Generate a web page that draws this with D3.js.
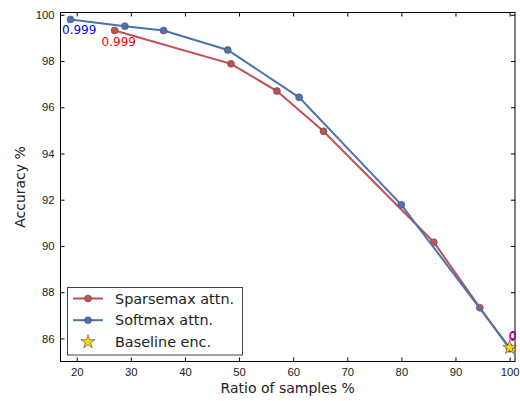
<!DOCTYPE html>
<html>
<head>
<meta charset="utf-8">
<script src="https://cdn.jsdelivr.net/npm/d3@7"></script>
<style>
  body { margin: 0; background: #fff; }
  svg { display: block; font-family: "DejaVu Sans", sans-serif; }
  .axis path, .axis line { stroke: #000; }
  .axis text { fill: #222; font-size: 11.3px; }
</style>
</head>
<body>
<div id="chart"></div>
<script>
// Data
const sparseX = [27, 48.5, 57, 65.6, 86, 94.5, 100];
const sparseY = [99.32, 97.88, 96.7, 94.96, 90.16, 87.33, 85.55];
const softX = [18.85, 28.9, 36.05, 47.9, 61.1, 80, 100];
const softY = [99.8, 99.51, 99.32, 98.48, 96.43, 91.78, 85.6];
const baseX = [100];
const baseY = [85.6];
const xTicks = [20, 30, 40, 50, 60, 70, 80, 90, 100];
const yTicks = [86, 88, 90, 92, 94, 96, 98, 100];
const seriesNames = ["Sparsemax attn.", "Softmax attn.", "Baseline enc."];
const startLabel = "0.999";
const endLabel = "0"; // only this much shows at the figure edge

// Plot box
const w = 520, h = 401;
const pLeft = 60.5, pRight = 515, pTop = 12.5, pBottom = 361.5;
const red = "#c44e52", blue = "#4c72b0";

const svg = d3.select("#chart").append("svg").attr("width", w).attr("height", h);

const x = d3.scaleLinear().domain([17, 101]).range([pLeft, pRight]);
const y = d3.scaleLinear().domain([85, 100.1]).range([pBottom, pTop]);

// Axes, ticks pointing inward on all four sides
svg.append("g").attr("class", "axis").attr("transform", "translate(0," + pBottom + ")")
  .call(d3.axisBottom(x).tickValues(xTicks).tickSizeInner(-4).tickSizeOuter(0).tickPadding(6))
  .call(g => g.select(".domain").remove());
svg.append("g").attr("class", "axis").attr("transform", "translate(0," + pTop + ")")
  .call(d3.axisTop(x).tickValues(xTicks).tickSizeInner(-4).tickSizeOuter(0).tickFormat(""))
  .call(g => g.select(".domain").remove());
svg.append("g").attr("class", "axis").attr("transform", "translate(" + pLeft + ",0)")
  .call(d3.axisLeft(y).tickValues(yTicks).tickSizeInner(-4).tickSizeOuter(0).tickPadding(6))
  .call(g => g.select(".domain").remove());
svg.append("g").attr("class", "axis").attr("transform", "translate(" + pRight + ",0)")
  .call(d3.axisRight(y).tickValues(yTicks).tickSizeInner(-4).tickSizeOuter(0).tickFormat(""))
  .call(g => g.select(".domain").remove());
svg.selectAll(".axis line").attr("stroke-width", 1);

svg.append("rect").attr("x", pLeft).attr("y", pTop).attr("width", pRight - pLeft).attr("height", pBottom - pTop)
  .attr("fill", "none").attr("stroke", "#000").attr("stroke-width", 1);

// Axis labels
svg.append("text").text("Ratio of samples %").attr("x", (pLeft + pRight) / 2).attr("y", 393)
  .attr("text-anchor", "middle").attr("font-size", 14).attr("fill", "#222");
svg.append("text").text("Accuracy %").attr("transform", "translate(25," + ((pTop + pBottom) / 2) + ") rotate(-90)")
  .attr("text-anchor", "middle").attr("font-size", 14).attr("fill", "#222");

// Lines and markers
function drawSeries(xs, ys, color) {
  const pts = xs.map((d, i) => [d, ys[i]]);
  const line = d3.line().x(d => x(d[0])).y(d => y(d[1]));
  svg.append("path").datum(pts).attr("d", line).attr("fill", "none").attr("stroke", color).attr("stroke-width", 2);
  svg.append("g").selectAll("circle").data(pts).join("circle")
    .attr("cx", d => x(d[0])).attr("cy", d => y(d[1])).attr("r", 3.5)
    .attr("fill", color).attr("stroke", "#555").attr("stroke-width", 0.6);
}
drawSeries(sparseX, sparseY, red);
drawSeries(softX, softY, blue);

const star = d3.symbol().type(d3.symbolStar).size(60);
svg.append("g").selectAll("path").data(baseX).join("path")
  .attr("d", star).attr("transform", (d, i) => "translate(" + x(d) + "," + y(baseY[i]) + ")")
  .attr("fill", "#ffd700").attr("stroke", "#444").attr("stroke-width", 0.6);

// Value annotations
const ann = svg.append("g").attr("font-size", 12);
ann.append("text").text(startLabel).attr("x", x(softX[0]) - 8.5).attr("y", y(softY[0]) + 14.5).attr("fill", "#0000ff");
ann.append("text").text(startLabel).attr("x", x(sparseX[0]) - 13).attr("y", y(sparseY[0]) + 15).attr("fill", "#ff0000");
ann.append("text").text(endLabel).attr("x", x(softX[softX.length - 1]) - 0.5).attr("y", y(softY[softY.length - 1]) - 8).attr("fill", "#0000ff");
ann.append("text").text(endLabel).attr("x", x(sparseX[sparseX.length - 1]) - 1).attr("y", y(sparseY[sparseY.length - 1]) - 7.5).attr("fill", "#e00040");

// Legend
const lg = svg.append("g").attr("transform", "translate(67.5,287.5)");
lg.append("rect").attr("width", 175).attr("height", 67.5).attr("fill", "#fff").attr("stroke", "#444").attr("stroke-width", 1);
const colors = [red, blue];
seriesNames.forEach((name, i) => {
  const cy = 11 + i * 21.7;
  if (i < 2) {
    lg.append("line").attr("x1", 5.5).attr("x2", 35.5).attr("y1", cy).attr("y2", cy).attr("stroke", colors[i]).attr("stroke-width", 2);
    lg.append("circle").attr("cx", 20.5).attr("cy", cy).attr("r", 3.5).attr("fill", colors[i]).attr("stroke", "#555").attr("stroke-width", 0.6);
  } else {
    lg.append("path").attr("d", star).attr("transform", "translate(20.5," + cy + ")")
      .attr("fill", "#ffd700").attr("stroke", "#444").attr("stroke-width", 0.6);
  }
  lg.append("text").text(name).attr("x", 47.5).attr("y", cy + 5).attr("font-size", 14.4).attr("fill", "#222");
});
</script>
</body>
</html>
